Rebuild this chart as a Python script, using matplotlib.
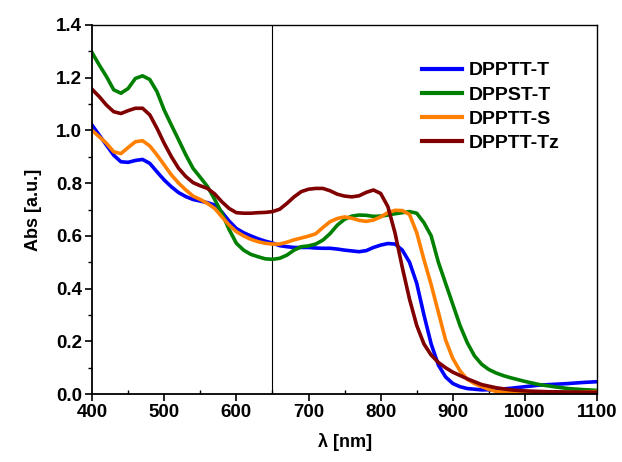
import matplotlib
matplotlib.use("Agg")
import matplotlib.pyplot as plt
from matplotlib.ticker import MultipleLocator, FormatStrFormatter

plt.rcParams['font.family'] = ['Liberation Sans', 'DejaVu Sans']

# DPPTT-T (blue)
wl_t = [400, 410, 420, 430, 440, 450, 460, 470, 480, 490, 500, 510, 520, 530, 540, 550, 560, 570, 580, 590,
        600, 610, 620, 630, 640, 650, 660, 670, 680, 690, 700, 710, 720, 730, 740, 750, 760, 770, 780, 790,
        800, 810, 820, 830, 840, 850, 860, 870, 880, 890, 900, 910, 920, 940, 960, 980, 1000, 1020, 1040,
        1060, 1080, 1100]
abs_t = [1.02, 0.982, 0.944, 0.906, 0.881, 0.879, 0.886, 0.89, 0.875, 0.843, 0.812, 0.786, 0.764, 0.749,
         0.738, 0.732, 0.726, 0.717, 0.69, 0.656, 0.628, 0.612, 0.60, 0.589, 0.58, 0.573, 0.563, 0.559, 0.556,
         0.556, 0.556, 0.554, 0.553, 0.553, 0.55, 0.546, 0.543, 0.54, 0.544, 0.556, 0.565, 0.571, 0.569,
         0.546, 0.50, 0.42, 0.30, 0.19, 0.11, 0.065, 0.04, 0.028, 0.021, 0.016, 0.017, 0.022, 0.028, 0.034,
         0.037, 0.04, 0.044, 0.047]

# DPPST-T (green)
wl_st = [400, 410, 420, 430, 440, 450, 460, 470, 480, 490, 500, 510, 520, 530, 540, 550, 560, 570, 580, 590,
         600, 610, 620, 630, 640, 650, 660, 670, 680, 690, 700, 710, 720, 730, 740, 750, 760, 770, 780, 790,
         800, 810, 820, 830, 840, 850, 860, 870, 880, 890, 900, 910, 920, 930, 940, 950, 960, 970, 980, 1000,
         1020, 1040, 1060, 1080, 1100]
abs_st = [1.295, 1.248, 1.204, 1.154, 1.141, 1.159, 1.197, 1.207, 1.193, 1.147, 1.077, 1.02, 0.964, 0.907,
          0.856, 0.822, 0.787, 0.738, 0.686, 0.624, 0.572, 0.546, 0.53, 0.521, 0.513, 0.511, 0.515, 0.527,
          0.546, 0.559, 0.562, 0.569, 0.584, 0.609, 0.641, 0.663, 0.675, 0.679, 0.678, 0.674, 0.675, 0.679,
          0.684, 0.688, 0.692, 0.686, 0.65, 0.60, 0.50, 0.42, 0.34, 0.26, 0.195, 0.145, 0.113, 0.093, 0.08,
          0.07, 0.062, 0.048, 0.036, 0.028, 0.021, 0.017, 0.014]

# DPPTT-S (orange)
wl_s = [400, 410, 420, 430, 440, 450, 460, 470, 480, 490, 500, 510, 520, 530, 540, 550, 560, 570, 580, 590,
        600, 610, 620, 630, 640, 650, 660, 670, 680, 690, 700, 710, 720, 730, 740, 750, 760, 770, 780, 790,
        800, 810, 820, 830, 840, 850, 860, 870, 880, 890, 900, 910, 920, 930, 940, 950, 960, 980, 1000, 1050,
        1100]
abs_s = [1.00, 0.976, 0.951, 0.919, 0.912, 0.935, 0.957, 0.961, 0.941, 0.907, 0.869, 0.831, 0.80, 0.774,
         0.751, 0.738, 0.723, 0.704, 0.672, 0.641, 0.616, 0.60, 0.587, 0.578, 0.572, 0.569, 0.569, 0.576,
         0.585, 0.592, 0.599, 0.608, 0.632, 0.654, 0.666, 0.672, 0.667, 0.659, 0.655, 0.66, 0.672, 0.688,
         0.697, 0.696, 0.681, 0.612, 0.51, 0.415, 0.31, 0.205, 0.135, 0.088, 0.056, 0.04, 0.028, 0.018, 0.01,
         0.005, 0.003, 0.004, 0.01]

# DPPTT-Tz (dark red)
wl_tz = [400, 410, 420, 430, 440, 450, 460, 470, 480, 490, 500, 510, 520, 530, 540, 550, 560, 570, 580, 590,
         600, 610, 620, 630, 640, 650, 660, 670, 680, 690, 700, 710, 720, 730, 740, 750, 760, 770, 780, 790,
         800, 810, 820, 830, 840, 850, 860, 870, 880, 890, 900, 920, 940, 960, 980, 1000, 1030, 1060, 1100]
abs_tz = [1.156, 1.128, 1.096, 1.071, 1.064, 1.075, 1.084, 1.084, 1.059, 1.008, 0.951, 0.90, 0.856, 0.825,
          0.802, 0.79, 0.78, 0.759, 0.729, 0.704, 0.688, 0.686, 0.686, 0.688, 0.689, 0.692, 0.701, 0.723,
          0.748, 0.768, 0.777, 0.78, 0.78, 0.771, 0.758, 0.751, 0.748, 0.752, 0.765, 0.774, 0.761, 0.711,
          0.61, 0.48, 0.36, 0.26, 0.19, 0.148, 0.12, 0.10, 0.083, 0.058, 0.036, 0.024, 0.016, 0.012, 0.009,
          0.008, 0.007]

labels = ["DPPTT-T", "DPPST-T", "DPPTT-S", "DPPTT-Tz"]
colors = ["#0000ff", "#008000", "#ff8000", "#800000"]
marker_wl = 650

fig = plt.figure(figsize=(6.22, 4.62), dpi=100)
ax = fig.add_axes([0.148, 0.147, 0.812, 0.799])

ax.axvline(marker_wl, color="black", lw=0.8, zorder=1)
for wl, ab, lab, c in zip([wl_t, wl_st, wl_s, wl_tz], [abs_t, abs_st, abs_s, abs_tz], labels, colors):
    ax.plot(wl, ab, color=c, lw=2.6, label=lab, zorder=2, solid_joinstyle='round')

ax.set_xlim(400, 1100)
ax.set_ylim(0, 1.4)
ax.xaxis.set_major_locator(MultipleLocator(100))
ax.xaxis.set_minor_locator(MultipleLocator(50))
ax.yaxis.set_major_locator(MultipleLocator(0.2))
ax.yaxis.set_minor_locator(MultipleLocator(0.1))
ax.yaxis.set_major_formatter(FormatStrFormatter('%.1f'))

ax.tick_params(axis='both', which='major', direction='out', length=5, width=1.2,
               labelsize=13.5, pad=2)
ax.tick_params(axis='y', which='minor', direction='out', length=3, width=1.0)
ax.tick_params(axis='x', which='minor', direction='in', length=3, width=1.0)
for lab in ax.get_xticklabels() + ax.get_yticklabels():
    lab.set_fontweight('bold')

for side in ['left', 'bottom']:
    ax.spines[side].set_linewidth(1.3)
for side in ['top', 'right']:
    ax.spines[side].set_linewidth(1.0)

ax.set_xlabel("λ [nm]", fontsize=13, fontweight='bold', labelpad=9)
ax.set_ylabel("Abs [a.u.]", fontsize=13, fontweight='bold', labelpad=10)

leg = ax.legend(loc='upper left', bbox_to_anchor=(0.637, 0.921), frameon=False,
                prop={'weight': 'bold', 'size': 14}, handlelength=2.1, handletextpad=0.35,
                labelspacing=0.33, borderaxespad=0)
for line in leg.get_lines():
    line.set_linewidth(3.0)

fig.savefig("out.png", dpi=100)
